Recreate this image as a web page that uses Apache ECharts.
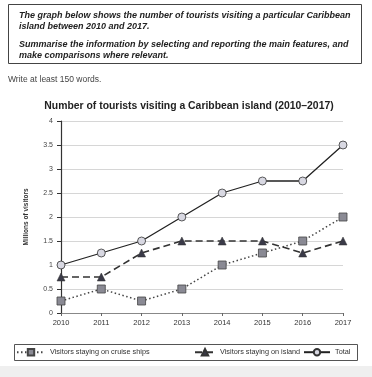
<!DOCTYPE html>
<html><head><meta charset="utf-8">
<script src="https://cdn.jsdelivr.net/npm/echarts@6/dist/echarts.min.js"></script>
<style>html,body{margin:0;padding:0;background:#fff}#c{width:372px;height:377px}</style>
</head><body><div id="c"></div>
<script>
const years = ['2010','2011','2012','2013','2014','2015','2016','2017'];
const cruise = [0.25, 0.5, 0.25, 0.5, 1, 1.25, 1.5, 2];
const island = [0.75, 0.75, 1.25, 1.5, 1.5, 1.5, 1.25, 1.5];
const total = [1, 1.25, 1.5, 2, 2.5, 2.75, 2.75, 3.5];
const yTicks = ['0','0.5','1','1.5','2','2.5','3','3.5','4'];
const names = ['Visitors staying on cruise ships','Visitors staying on island','Total'];

const FONT = '"Liberation Sans", Arial, sans-serif';
const legTxt = {fontSize: 7.3, color: '#333', fontFamily: FONT};
const chart = echarts.init(document.getElementById('c'), null, {renderer:'canvas'});
chart.setOption({
  backgroundColor: '#fff',
  animation: false,
  textStyle: {fontFamily: FONT},
  title: {
    text: 'Number of tourists visiting a Caribbean island (2010\u20132017)',
    left: 184, top: 96, textAlign: 'center',
    textStyle: {fontSize: 10.4, fontWeight: 'bold', color: '#222', fontFamily: FONT}
  },
  graphic: [
    {type:'rect', shape:{x:8.5,y:4.5,width:353,height:59}, style:{fill:'#fff', stroke:'#444', lineWidth:1}},
    {type:'text', left:19, top:10, style:{text:'The graph below shows the number of tourists visiting a particular Caribbean\nisland between 2010 and 2017.', font:'italic bold 9px '+FONT, fill:'#222', lineHeight:11}},
    {type:'text', left:19, top:39, style:{text:'Summarise the information by selecting and reporting the main features, and\nmake comparisons where relevant.', font:'italic bold 9px '+FONT, fill:'#222', lineHeight:11}},
    {type:'text', left:8, top:75, style:{text:'Write at least 150 words.', font:'8.5px '+FONT, fill:'#444'}},
    {type:'rect', shape:{x:14.5,y:344.5,width:343,height:16}, style:{fill:'none', stroke:'#555', lineWidth:1}},
    {type:'rect', shape:{x:0,y:366,width:372,height:11}, style:{fill:'#efefef'}}
  ],
  grid: {left: 61, right: 29, top: 121, bottom: 64},
  legend: [
    {left: 16, top: 348, itemWidth: 28, itemHeight: 8, padding: 0, textStyle: legTxt, data: [names[0]]},
    {left: 194, top: 348, itemWidth: 20, itemHeight: 8, padding: 0, textStyle: legTxt, data: [names[1]]},
    {left: 303, top: 348, itemWidth: 26, itemHeight: 8, padding: 0, textStyle: legTxt, data: [names[2]]}
  ],
  xAxis: {
    type: 'category', data: years, boundaryGap: false,
    axisLine: {lineStyle: {color: '#888', width: 1}},
    axisTick: {show: true, length: 3, lineStyle: {color: '#666'}},
    axisLabel: {fontSize: 7.5, color: '#333', margin: 6}
  },
  yAxis: {
    type: 'value', min: 0, max: 4, interval: 0.5,
    name: 'Millions of visitors', nameLocation: 'middle', nameGap: 31, nameRotate: 90,
    nameTextStyle: {fontSize: 6.5, fontWeight: 'bold', color: '#333'},
    axisLine: {show: true, lineStyle: {color: '#333', width: 1.2}},
    axisTick: {show: true, length: 4, lineStyle: {color: '#333'}},
    axisLabel: {fontSize: 7, color: '#444', margin: 8, formatter: (v, i) => yTicks[i]},
    splitLine: {lineStyle: {color: '#d6d6d6', width: 1}}
  },
  series: [
    {name: names[0], type:'line', data: cruise,
     symbol:'rect', symbolSize: 8,
     lineStyle:{color:'#444', width:1.5, type:[1.5,2.5]},
     itemStyle:{color:'#8a8a94', borderColor:'#444', borderWidth:0.8}},
    {name: names[1], type:'line', data: island,
     symbol:'triangle', symbolSize: 8,
     lineStyle:{color:'#333', width:1.6, type:[7,4]},
     itemStyle:{color:'#3a3a48', borderColor:'#333', borderWidth:0.5}},
    {name: names[2], type:'line', data: total,
     symbol:'circle', symbolSize: 8,
     lineStyle:{color:'#222', width:1.3, type:'solid'},
     itemStyle:{color:'#d8d8e2', borderColor:'#333', borderWidth:0.8}}
  ]
});
</script></body></html>
